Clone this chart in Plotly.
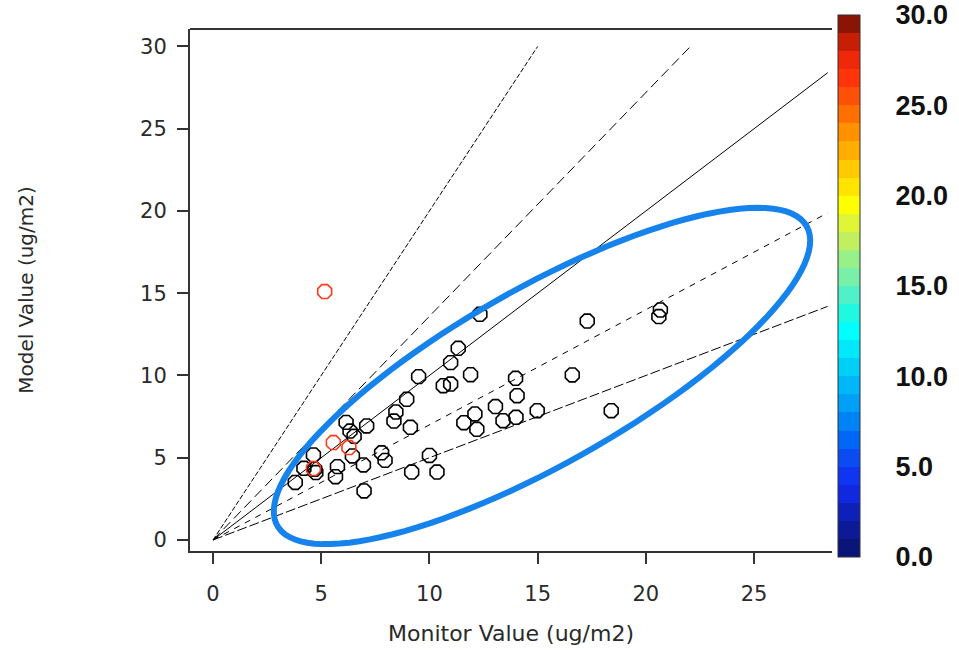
import numpy as np
import plotly.graph_objects as go

# Monitor vs model values (ug/m2)
black_x = [12.33, 17.29, 20.67, 20.60, 11.33, 10.98, 11.90, 9.50, 10.64, 10.98,
           16.60, 13.98, 14.05, 8.95, 8.45, 8.36, 9.12, 7.10, 6.15, 6.33,
           6.52, 13.05, 12.10, 11.59, 12.19, 13.40, 14.00, 14.98, 18.40, 10.00,
           10.35, 9.18, 7.79, 7.95, 6.95, 6.98, 6.44, 4.64, 4.20, 5.75,
           5.66, 3.80, 4.75, 4.70]
black_y = [13.72, 13.31, 13.98, 13.58, 11.65, 10.78, 10.05, 9.93, 9.38, 9.48,
           10.03, 9.83, 8.77, 8.55, 7.78, 7.23, 6.85, 6.93, 7.15, 6.62,
           6.30, 8.11, 7.66, 7.13, 6.73, 7.25, 7.46, 7.86, 7.86, 5.14,
           4.13, 4.13, 5.30, 4.84, 4.56, 2.98, 5.11, 5.17, 4.36, 4.46,
           3.85, 3.50, 4.10, 4.30]
red_x = [5.16, 5.56, 6.28, 4.64]
red_y = [15.10, 5.92, 5.62, 4.34]

# Reference lines through the origin (model / monitor)
ratios = [2.0, 1.36, 1.0, 0.7, 0.5]
ratio_dash = ["5px,2px", "10px,5px", "solid", "6px,6px", "10px,3px"]
line_xmax, line_ymax = 28.4, 30.0

x_ticks = [0, 5, 10, 15, 20, 25]
y_ticks = [0, 5, 10, 15, 20, 25, 30]
cbar_ticks = [0, 5, 10, 15, 20, 25, 30]
cbar_labels = ["0.0", "5.0", "10.0", "15.0", "20.0", "25.0", "30.0"]

# 30 discrete colour bands, 0 -> 30
band_colors = ["#0a1578", "#0c1a98", "#0d20b8", "#1028e0", "#1035f0",
               "#0a4cf2", "#0066f5", "#0084f5", "#00a0f6", "#00b8f8",
               "#00d0f8", "#00e8fa", "#00ffff", "#20f8e0", "#50f0c8",
               "#78f0a8", "#98f088", "#c0f060", "#e0f535", "#ffff00",
               "#ffe400", "#ffca00", "#ffae00", "#ff9000", "#ff7000",
               "#ff5008", "#ff340a", "#ee280a", "#c81e06", "#8b1505"]

# Highlight ellipse: centre and conjugate semi-diameters (data units)
ell_center = (15.20, 9.97)
ell_a = (12.23, 9.10)
ell_b = (-2.00, 4.66)

x_range = [-1.063, 28.60]
y_range = [-0.669, 31.06]

fig = go.Figure()

for r, d in zip(ratios, ratio_dash):
    xe = min(line_ymax / r, line_xmax)
    fig.add_trace(go.Scatter(x=[0, xe], y=[0, r * xe], mode="lines",
                             line=dict(color="black", width=1, dash=d),
                             hoverinfo="skip", showlegend=False))

fig.add_trace(go.Scatter(x=black_x, y=black_y, mode="markers",
                         marker=dict(symbol="octagon-open", size=15, color="black",
                                     line=dict(width=1.6)),
                         showlegend=False))
fig.add_trace(go.Scatter(x=red_x, y=red_y, mode="markers",
                         marker=dict(symbol="octagon-open", size=15, color="#ff3a1a",
                                     line=dict(width=1.6)),
                         showlegend=False))

# colour bar
n = len(band_colors)
cscale = []
for i, c in enumerate(band_colors):
    cscale.append([i / n, c])
    cscale.append([(i + 1) / n, c])
fig.add_trace(go.Scatter(
    x=[None], y=[None], mode="markers", showlegend=False, hoverinfo="skip",
    marker=dict(color=[0], cmin=0, cmax=30, colorscale=cscale, showscale=True,
                colorbar=dict(
                    x=1.0094, xanchor="left", y=1.0268, yanchor="top",
                    xpad=0, ypad=0,
                    thickness=22, thicknessmode="pixels",
                    len=542, lenmode="pixels",
                    outlinewidth=1, outlinecolor="#333",
                    tickvals=cbar_ticks, ticktext=cbar_labels,
                    ticks="outside", ticklen=30, tickcolor="rgba(0,0,0,0)",
                    tickfont=dict(family="Liberation Sans, Arial", size=27,
                                  color="#111", weight="bold"),
                ))))

# ellipse path
t = np.linspace(0, 2 * np.pi, 120)
ex = ell_center[0] + ell_a[0] * np.cos(t) + ell_b[0] * np.sin(t)
ey = ell_center[1] + ell_a[1] * np.cos(t) + ell_b[1] * np.sin(t)
path = "M " + " L ".join(f"{a:.3f},{b:.3f}" for a, b in zip(ex, ey)) + " Z"
fig.add_shape(type="path", path=path, xref="x", yref="y",
              line=dict(color="#1683ec", width=6))

# top border
fig.add_shape(type="line", xref="paper", yref="paper", x0=0, x1=1, y0=1, y1=1,
              line=dict(color="#333", width=2))

axis_font = dict(family="DejaVu Sans", size=21, color="#2a2a2a")
fig.update_xaxes(range=x_range, tickvals=x_ticks, showgrid=False, zeroline=False,
                 showline=True, linecolor="#333", linewidth=2,
                 ticks="outside", ticklen=11, tickwidth=1.5, tickcolor="#333",
                 tickfont=axis_font, ticklabelstandoff=12,
                 title=dict(text="Monitor Value (ug/m2)", standoff=20,
                            font=dict(family="DejaVu Sans", size=22, color="#2a2a2a")))
fig.update_yaxes(range=y_range, tickvals=y_ticks, showgrid=False, zeroline=False,
                 showline=True, linecolor="#333", linewidth=2,
                 ticks="outside", ticklen=11, tickwidth=1.5, tickcolor="#333",
                 tickfont=axis_font, ticklabelstandoff=6,
                 title=dict(text="Model Value (ug/m2)", standoff=101,
                            font=dict(family="DejaVu Sans", size=20, color="#2a2a2a")))

fig.update_layout(width=959, height=650, plot_bgcolor="white", paper_bgcolor="white",
                  margin=dict(l=190, r=127, t=29, b=99, autoexpand=False),
                  showlegend=False)

fig.write_html("out.html")
